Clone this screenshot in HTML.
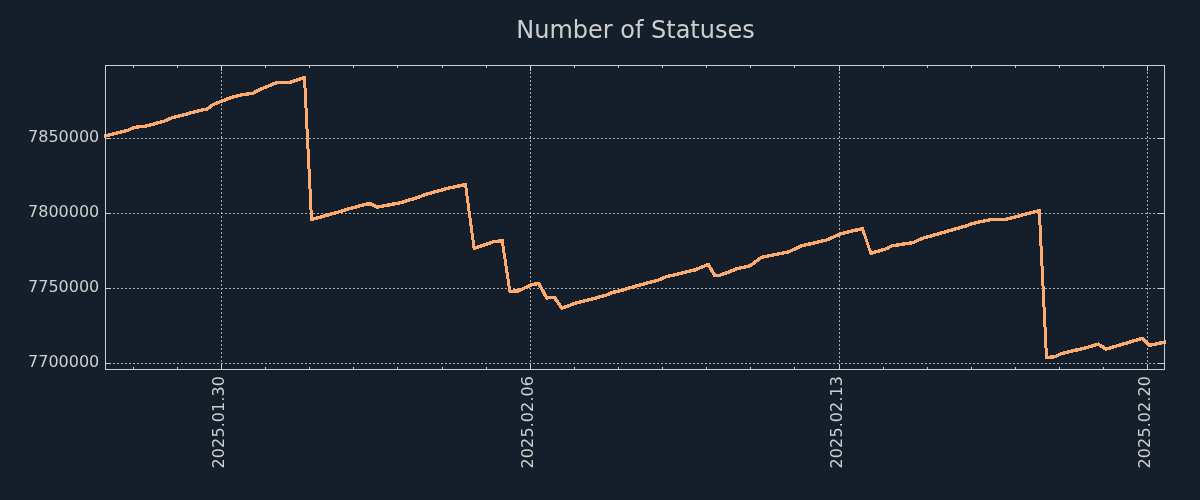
<!DOCTYPE html>
<html><head><meta charset="utf-8"><title>Number of Statuses</title>
<style>
html,body{margin:0;padding:0;background:#141f2b;}
svg{display:block}
text{font-family:"DejaVu Sans","Liberation Sans",sans-serif;fill:#cecece;}
.t{font-size:24px}
.l{font-size:16px}
</style></head><body>
<svg width="1200" height="500" viewBox="0 0 1200 500">
<rect x="0" y="0" width="1200" height="500" fill="#141f2b"/>

<g stroke="#abadaf" stroke-width="1" stroke-dasharray="2 2" shape-rendering="crispEdges" fill="none">
<line x1="221.5" y1="370.0" x2="221.5" y2="65.5"/>
<line x1="530.5" y1="370.0" x2="530.5" y2="65.5"/>
<line x1="839.5" y1="370.0" x2="839.5" y2="65.5"/>
<line x1="1147.5" y1="370.0" x2="1147.5" y2="65.5"/>
<line x1="105.0" y1="138.5" x2="1164.5" y2="138.5"/>
<line x1="105.0" y1="213.5" x2="1164.5" y2="213.5"/>
<line x1="105.0" y1="288.5" x2="1164.5" y2="288.5"/>
<line x1="105.0" y1="363.5" x2="1164.5" y2="363.5"/>
</g>
<g fill="none" stroke="#ffab70" shape-rendering="crispEdges">
<polyline points="103.95,136.19 128,130.2 133.6,127.6 139,126.7 145.2,126.3 164.4,121.1 171.4,118 200,110.5 207,109 213,104.6 221.5,101.3 230,97.9 243,94.5 253,93.4 258,90.3 273,84.1 277.5,82.5 289.5,82.5 305.07,77.31" stroke-width="3.4" stroke-linejoin="miter" stroke-linecap="butt"/>
<polyline points="310.92,219.66 338,212.2 347,209.3 366.8,204 371.6,204.2 377,207.2 400,202.8 418,197.4 426.4,194.2 448,188.3 466.09,184.37" stroke-width="3.4" stroke-linejoin="miter" stroke-linecap="butt"/>
<polyline points="473.53,248.7 493.7,241.6 502.8,240.74" stroke-width="3.4" stroke-linejoin="miter" stroke-linecap="butt"/>
<polyline points="509.3,291.55 518.5,290.8 532.4,284.4 538.7,283.5 546.8,297.9 554.4,297.4 562,308.2 576,303.0 605.4,295.5 612.4,292.5 623.6,289.9 627.8,288.3 658.6,280.0 665.6,276.9 695,269.9 708.3,264.5 714.8,275.6 719.5,275.4 727.2,272.6 737,268.7 748.2,266.3 752.4,264.2 761.5,257.3 788.8,251.8 801.4,245.9 826.6,240.0 840.6,233.8 862.98,228.46" stroke-width="3.4" stroke-linejoin="miter" stroke-linecap="butt"/>
<polyline points="870.32,253.47 886.8,248.6 891.7,245.9 913.4,242.5 921.8,238.5 966.6,225.8 971.5,223.7 991,219.5 1005.5,219.5 1025,214.3 1039.88,210.55" stroke-width="3.4" stroke-linejoin="miter" stroke-linecap="butt"/>
<polyline points="1045.9,357.56 1055.1,356.7 1061.4,353.6 1086.6,347.6 1098.2,344.1 1106,349.1 1142.6,338.3 1149.6,345.3 1165.98,341.9" stroke-width="3.4" stroke-linejoin="miter" stroke-linecap="butt"/>
<polyline points="304.5,77.5 311.5,219.5" stroke-width="3" stroke-linecap="square"/>
<polyline points="465.5,184.5 474.1,248.5" stroke-width="3" stroke-linecap="square"/>
<polyline points="502.2,240.8 509.9,291.5" stroke-width="3" stroke-linecap="square"/>
<polyline points="862.4,228.6 870.9,253.3" stroke-width="3" stroke-linecap="square"/>
<polyline points="1039.3,210.7 1046.5,357.5" stroke-width="3" stroke-linecap="square"/>
</g>
<g stroke="#cecece" stroke-width="1" shape-rendering="crispEdges" fill="none">
<line x1="133.5" y1="369.5" x2="133.5" y2="367.0"/><line x1="133.5" y1="65.5" x2="133.5" y2="68.0"/>
<line x1="177.5" y1="369.5" x2="177.5" y2="367.0"/><line x1="177.5" y1="65.5" x2="177.5" y2="68.0"/>
<line x1="221.5" y1="369.5" x2="221.5" y2="364.0"/><line x1="221.5" y1="65.5" x2="221.5" y2="71.0"/>
<line x1="265.5" y1="369.5" x2="265.5" y2="367.0"/><line x1="265.5" y1="65.5" x2="265.5" y2="68.0"/>
<line x1="309.5" y1="369.5" x2="309.5" y2="367.0"/><line x1="309.5" y1="65.5" x2="309.5" y2="68.0"/>
<line x1="353.5" y1="369.5" x2="353.5" y2="367.0"/><line x1="353.5" y1="65.5" x2="353.5" y2="68.0"/>
<line x1="397.5" y1="369.5" x2="397.5" y2="367.0"/><line x1="397.5" y1="65.5" x2="397.5" y2="68.0"/>
<line x1="442.5" y1="369.5" x2="442.5" y2="367.0"/><line x1="442.5" y1="65.5" x2="442.5" y2="68.0"/>
<line x1="486.5" y1="369.5" x2="486.5" y2="367.0"/><line x1="486.5" y1="65.5" x2="486.5" y2="68.0"/>
<line x1="530.5" y1="369.5" x2="530.5" y2="364.0"/><line x1="530.5" y1="65.5" x2="530.5" y2="71.0"/>
<line x1="574.5" y1="369.5" x2="574.5" y2="367.0"/><line x1="574.5" y1="65.5" x2="574.5" y2="68.0"/>
<line x1="618.5" y1="369.5" x2="618.5" y2="367.0"/><line x1="618.5" y1="65.5" x2="618.5" y2="68.0"/>
<line x1="662.5" y1="369.5" x2="662.5" y2="367.0"/><line x1="662.5" y1="65.5" x2="662.5" y2="68.0"/>
<line x1="706.5" y1="369.5" x2="706.5" y2="367.0"/><line x1="706.5" y1="65.5" x2="706.5" y2="68.0"/>
<line x1="750.5" y1="369.5" x2="750.5" y2="367.0"/><line x1="750.5" y1="65.5" x2="750.5" y2="68.0"/>
<line x1="794.5" y1="369.5" x2="794.5" y2="367.0"/><line x1="794.5" y1="65.5" x2="794.5" y2="68.0"/>
<line x1="839.5" y1="369.5" x2="839.5" y2="364.0"/><line x1="839.5" y1="65.5" x2="839.5" y2="71.0"/>
<line x1="883.5" y1="369.5" x2="883.5" y2="367.0"/><line x1="883.5" y1="65.5" x2="883.5" y2="68.0"/>
<line x1="927.5" y1="369.5" x2="927.5" y2="367.0"/><line x1="927.5" y1="65.5" x2="927.5" y2="68.0"/>
<line x1="971.5" y1="369.5" x2="971.5" y2="367.0"/><line x1="971.5" y1="65.5" x2="971.5" y2="68.0"/>
<line x1="1015.5" y1="369.5" x2="1015.5" y2="367.0"/><line x1="1015.5" y1="65.5" x2="1015.5" y2="68.0"/>
<line x1="1059.5" y1="369.5" x2="1059.5" y2="367.0"/><line x1="1059.5" y1="65.5" x2="1059.5" y2="68.0"/>
<line x1="1103.5" y1="369.5" x2="1103.5" y2="367.0"/><line x1="1103.5" y1="65.5" x2="1103.5" y2="68.0"/>
<line x1="1147.5" y1="369.5" x2="1147.5" y2="364.0"/><line x1="1147.5" y1="65.5" x2="1147.5" y2="71.0"/>
<line x1="105.5" y1="138.5" x2="111.0" y2="138.5"/><line x1="1164.5" y1="138.5" x2="1159.0" y2="138.5"/>
<line x1="105.5" y1="213.5" x2="111.0" y2="213.5"/><line x1="1164.5" y1="213.5" x2="1159.0" y2="213.5"/>
<line x1="105.5" y1="288.5" x2="111.0" y2="288.5"/><line x1="1164.5" y1="288.5" x2="1159.0" y2="288.5"/>
<line x1="105.5" y1="363.5" x2="111.0" y2="363.5"/><line x1="1164.5" y1="363.5" x2="1159.0" y2="363.5"/>
<rect x="105.5" y="65.5" width="1059.0" height="304.0"/>
</g>
<text class="t" x="635.5" y="37.6" text-anchor="middle">Number of Statuses</text>
<text class="l" x="99.3" y="142.0" text-anchor="end">7850000</text>
<text class="l" x="99.3" y="217.0" text-anchor="end">7800000</text>
<text class="l" x="99.3" y="292.0" text-anchor="end">7750000</text>
<text class="l" x="99.3" y="367.0" text-anchor="end">7700000</text>
<text class="l" transform="translate(224.0,375.9) rotate(-90)" text-anchor="end" letter-spacing="0.09">2025.01.30</text>
<text class="l" transform="translate(533.0,375.9) rotate(-90)" text-anchor="end" letter-spacing="0.09">2025.02.06</text>
<text class="l" transform="translate(842.0,375.9) rotate(-90)" text-anchor="end" letter-spacing="0.09">2025.02.13</text>
<text class="l" transform="translate(1150.0,375.9) rotate(-90)" text-anchor="end" letter-spacing="0.09">2025.02.20</text>
</svg></body></html>
